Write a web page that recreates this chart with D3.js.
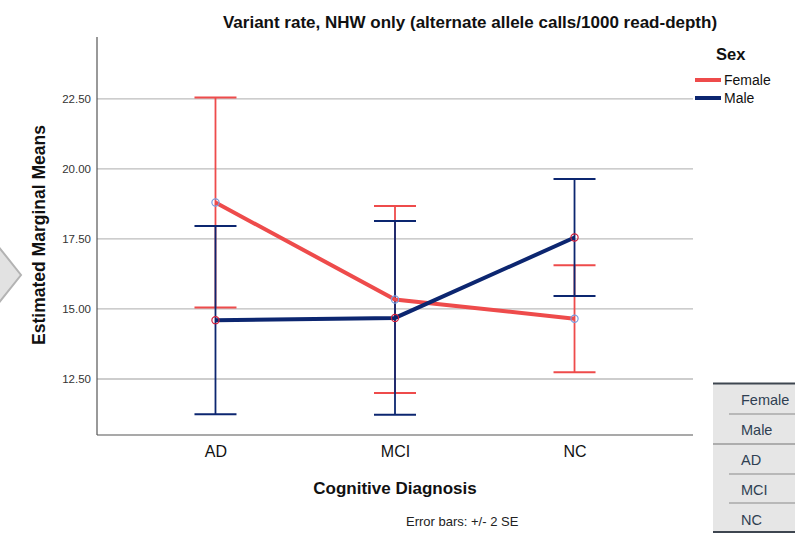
<!DOCTYPE html>
<html>
<head>
<meta charset="utf-8">
<script src="https://cdn.jsdelivr.net/npm/d3@7/dist/d3.min.js"></script>
<style>
  html, body { margin: 0; padding: 0; background: #fff; }
  svg { display: block; font-family: "Liberation Sans", Arial, sans-serif; }
</style>
</head>
<body>
<svg id="chart" width="795" height="534"></svg>
<script>
// Estimated marginal means by cognitive diagnosis and sex
const categories = ["AD", "MCI", "NC"];
const sexes = ["Female", "Male"];
const femaleMeans = [18.80, 15.34, 14.65];
const femaleSE = [1.875, 1.67, 0.955];
const maleMeans = [14.60, 14.68, 17.55];
const maleSE = [1.68, 1.73, 1.045];
const yTicks = [12.5, 15, 17.5, 20, 22.5];
const tableRows = ["Female", "Male", "AD", "MCI", "NC"];

const colors = { Female: "#ee4b4b", Male: "#0c2670" };
const markerColors = { Female: "#7b9ee0", Male: "#d21f3c" };

const series = [
  { name: "Female", means: femaleMeans, se: femaleSE },
  { name: "Male", means: maleMeans, se: maleSE }
];

const svg = d3.select("#chart");
const plotLeft = 97, plotRight = 693, plotTop = 37, plotBottom = 435;

const x = d3.scalePoint().domain(categories).range([plotLeft, plotRight]).padding(0.66);
const y = d3.scaleLinear().domain([10.5, 24.71]).range([plotBottom, plotTop]);

// gridlines
svg.append("g").selectAll("line").data(yTicks).join("line")
  .attr("x1", plotLeft).attr("x2", plotRight)
  .attr("y1", d => y(d)).attr("y2", d => y(d))
  .attr("stroke", "#bdbdbd").attr("stroke-width", 1.3);

// y axis
const yAxis = svg.append("g").attr("transform", `translate(${plotLeft},0)`)
  .call(d3.axisLeft(y).tickValues(yTicks).tickFormat(d3.format(".2f")).tickSize(0).tickPadding(6));
yAxis.select(".domain").attr("stroke", "#555").attr("stroke-width", 1.2)
  .attr("d", `M0,${plotTop}V${plotBottom}`);
yAxis.selectAll("text").attr("font-size", 11.5).attr("fill", "#333")
  .attr("font-family", "Liberation Sans, Arial, sans-serif");

// x axis
const xAxis = svg.append("g").attr("transform", `translate(0,${plotBottom})`)
  .call(d3.axisBottom(x).tickSize(0).tickPadding(11));
xAxis.select(".domain").attr("stroke", "#555").attr("stroke-width", 1.2)
  .attr("d", `M${plotLeft},0H${plotRight}`);
xAxis.selectAll("text").attr("font-size", 16).attr("fill", "#111")
  .attr("font-family", "Liberation Sans, Arial, sans-serif");

// error bars (±2 SE)
const capHalf = 21;
series.forEach(s => {
  const g = svg.append("g");
  categories.forEach((c, i) => {
    const cx = x(c);
    const lo = s.means[i] - 2 * s.se[i];
    const hi = s.means[i] + 2 * s.se[i];
    g.append("line").attr("x1", cx).attr("x2", cx)
      .attr("y1", y(lo)).attr("y2", y(hi))
      .attr("stroke", colors[s.name]).attr("stroke-width", 1.8);
    [lo, hi].forEach(v => {
      g.append("line").attr("x1", cx - capHalf).attr("x2", cx + capHalf)
        .attr("y1", y(v)).attr("y2", y(v))
        .attr("stroke", colors[s.name]).attr("stroke-width", 2);
    });
  });
});

// mean lines
const line = d3.line().x((d, i) => x(categories[i])).y(d => y(d));
series.forEach(s => {
  svg.append("path").datum(s.means)
    .attr("d", line).attr("fill", "none")
    .attr("stroke", colors[s.name]).attr("stroke-width", 4);
});

// point markers
series.forEach(s => {
  svg.append("g").selectAll("circle").data(s.means).join("circle")
    .attr("cx", (d, i) => x(categories[i])).attr("cy", d => y(d))
    .attr("r", 3.6).attr("fill", "none")
    .attr("stroke", markerColors[s.name]).attr("stroke-width", 1.2);
});

// title and axis labels
svg.append("text").attr("x", 470).attr("y", 28).attr("text-anchor", "middle")
  .attr("font-size", 17).attr("font-weight", "bold").attr("fill", "#111")
  .text("Variant rate, NHW only (alternate allele calls/1000 read-depth)");
svg.append("text").attr("transform", "translate(45,235) rotate(-90)")
  .attr("text-anchor", "middle").attr("font-size", 17.5).attr("font-weight", "bold").attr("fill", "#111")
  .text("Estimated Marginal Means");
svg.append("text").attr("x", 395).attr("y", 494).attr("text-anchor", "middle")
  .attr("font-size", 17).attr("font-weight", "bold").attr("fill", "#111")
  .text("Cognitive Diagnosis");
svg.append("text").attr("x", 406).attr("y", 526)
  .attr("font-size", 13).attr("fill", "#222")
  .text("Error bars: +/- 2 SE");

// legend
const legend = svg.append("g");
legend.append("text").attr("x", 716).attr("y", 60).attr("font-size", 16.5)
  .attr("font-weight", "bold").attr("fill", "#111").text("Sex");
sexes.forEach((sx, i) => {
  const ly = 80 + i * 18;
  legend.append("line").attr("x1", 695).attr("x2", 721).attr("y1", ly).attr("y2", ly)
    .attr("stroke", colors[sx]).attr("stroke-width", 4);
  legend.append("text").attr("x", 724).attr("y", ly + 5).attr("font-size", 14)
    .attr("fill", "#111").text(sx);
});

// navigation chevron on the left edge
svg.append("path").attr("d", "M-2,246 L21,275 L-2,304")
  .attr("fill", "#e2e2e2").attr("stroke", "#b3b3b3").attr("stroke-width", 2);

// side table of factor levels
const tbl = svg.append("g");
tbl.append("rect").attr("x", 713).attr("y", 383).attr("width", 85).attr("height", 149)
  .attr("fill", "#e6e6e6");
tbl.append("line").attr("x1", 713).attr("x2", 795).attr("y1", 383.5).attr("y2", 383.5)
  .attr("stroke", "#3e4650").attr("stroke-width", 2);
tbl.append("line").attr("x1", 713).attr("x2", 795).attr("y1", 532).attr("y2", 532)
  .attr("stroke", "#3e4650").attr("stroke-width", 2);
const sepY = [414, 444, 474, 503];
sepY.forEach((sy, i) => {
  tbl.append("line").attr("x1", i === 1 ? 713 : 729).attr("x2", 795)
    .attr("y1", sy).attr("y2", sy)
    .attr("stroke", i === 1 ? "#9a9a9a" : "#a8a8a8").attr("stroke-width", 1.5);
});
tableRows.forEach((r, i) => {
  tbl.append("text").attr("x", 741).attr("y", 405 + i * 30)
    .attr("font-size", 14.5).attr("fill", "#2f3f52").text(r);
});
</script>
</body>
</html>
